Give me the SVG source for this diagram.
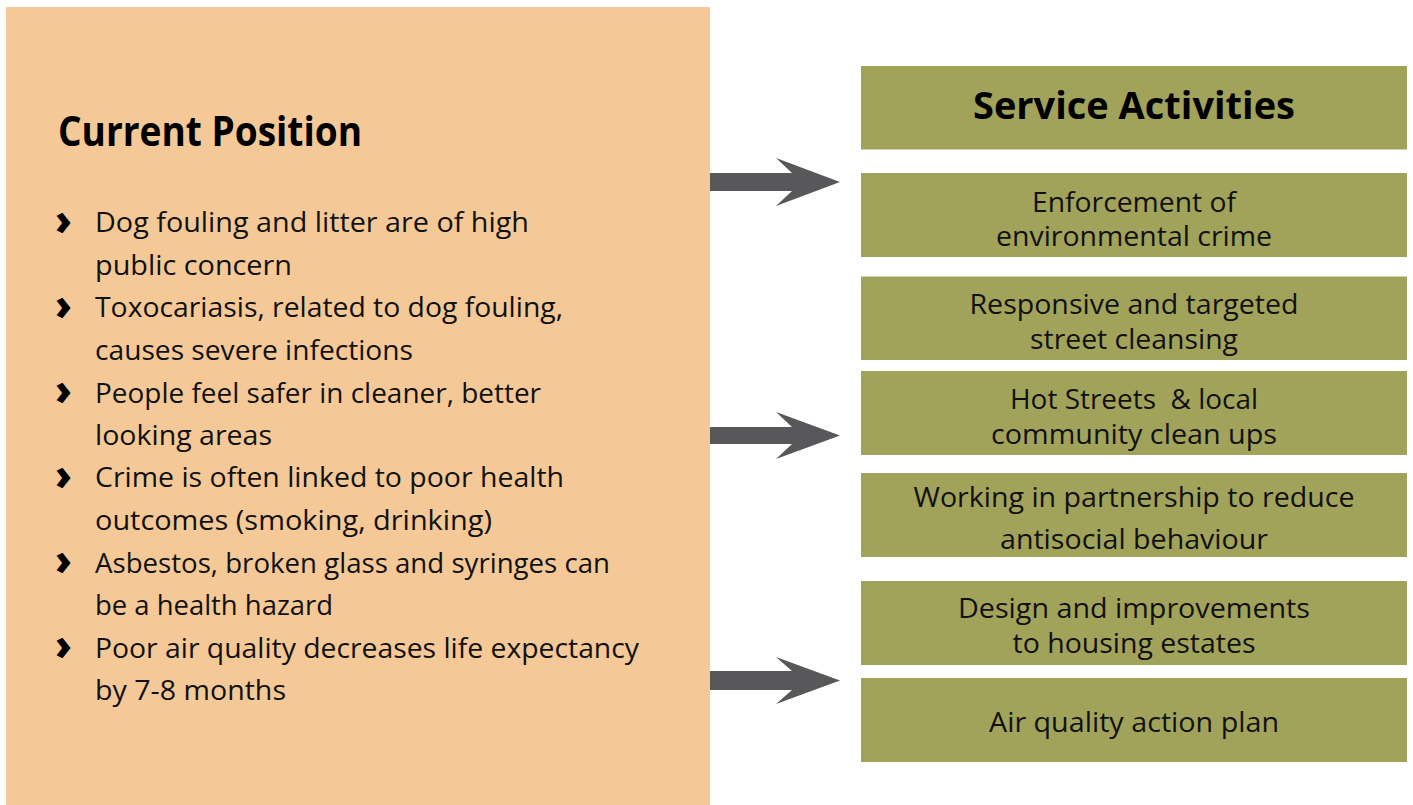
<svg xmlns="http://www.w3.org/2000/svg" width="1413" height="805" viewBox="0 0 1413 805">
<style>
  .panel { fill: #f4c997; }
  .box { fill: #a2a35b; }
  .arrow { fill: #58585a; }
  .t { font-family: "Open Sans", "Noto Sans", sans-serif; font-size: 28px; fill: #111; }
  .c { text-anchor: middle; }
  .h { font-family: "Open Sans", "Noto Sans", sans-serif; font-weight: bold; fill: #000; }
  .b { font-family: "Open Sans", "Noto Sans", sans-serif; font-weight: 800; font-size: 42px; fill: #000; }
</style>
<rect width="1413" height="805" fill="#ffffff"/>

<g id="current-position">
  <rect class="panel" x="6" y="7" width="704" height="798"/>
  <text class="h" x="58" y="146" font-size="41" textLength="304" lengthAdjust="spacingAndGlyphs">Current Position</text>
  <g class="b">
    <text x="55" y="235">›</text>
    <text x="55" y="320">›</text>
    <text x="55" y="405">›</text>
    <text x="55" y="490">›</text>
    <text x="55" y="575">›</text>
    <text x="55" y="660">›</text>
  </g>
  <g class="t">
    <text x="95" y="232" textLength="434" lengthAdjust="spacingAndGlyphs">Dog fouling and litter are of high</text>
    <text x="95" y="274.5" textLength="197" lengthAdjust="spacingAndGlyphs">public concern</text>
    <text x="95" y="317" textLength="468" lengthAdjust="spacingAndGlyphs">Toxocariasis, related to dog fouling,</text>
    <text x="95" y="359.5" textLength="318" lengthAdjust="spacingAndGlyphs">causes severe infections</text>
    <text x="95" y="403" textLength="446" lengthAdjust="spacingAndGlyphs">People feel safer in cleaner, better</text>
    <text x="95" y="445" textLength="177" lengthAdjust="spacingAndGlyphs">looking areas</text>
    <text x="95" y="487" textLength="469" lengthAdjust="spacingAndGlyphs">Crime is often linked to poor health</text>
    <text x="95" y="529.5" textLength="397" lengthAdjust="spacingAndGlyphs">outcomes (smoking, drinking)</text>
    <text x="95" y="572.5" textLength="515" lengthAdjust="spacingAndGlyphs">Asbestos, broken glass and syringes can</text>
    <text x="95" y="615" textLength="238" lengthAdjust="spacingAndGlyphs">be a health hazard</text>
    <text x="95" y="658" textLength="544" lengthAdjust="spacingAndGlyphs">Poor air quality decreases life expectancy</text>
    <text x="95" y="700" textLength="191" lengthAdjust="spacingAndGlyphs">by 7-8 months</text>
  </g>
</g>

<g id="service-activities">
  <rect class="box" x="861" y="66" width="546" height="83.5"/>
  <text class="h c" x="1134" y="119" font-size="38" textLength="322" lengthAdjust="spacingAndGlyphs">Service Activities</text>
</g>

<g id="enforcement">
  <rect class="box" x="861" y="173" width="546" height="84"/>
  <text class="t c" x="1134" y="212" font-size="27" textLength="204" lengthAdjust="spacingAndGlyphs">Enforcement of</text>
  <text class="t c" x="1134" y="245.5" font-size="27" textLength="276" lengthAdjust="spacingAndGlyphs">environmental crime</text>
</g>

<g id="street-cleansing">
  <rect class="box" x="861" y="276.5" width="546" height="83.5"/>
  <text class="t c" x="1134" y="314" textLength="329" lengthAdjust="spacingAndGlyphs">Responsive and targeted</text>
  <text class="t c" x="1134" y="349" textLength="208" lengthAdjust="spacingAndGlyphs">street cleansing</text>
</g>

<g id="hot-streets">
  <rect class="box" x="861" y="371" width="546" height="84"/>
  <text class="t c" x="1134" y="408.5" textLength="248" lengthAdjust="spacingAndGlyphs" style="white-space:pre">Hot Streets  &amp; local</text>
  <text class="t c" x="1134" y="443.5" textLength="286" lengthAdjust="spacingAndGlyphs">community clean ups</text>
</g>

<g id="partnership">
  <rect class="box" x="861" y="473" width="546" height="84"/>
  <text class="t c" x="1134" y="507" textLength="441" lengthAdjust="spacingAndGlyphs">Working in partnership to reduce</text>
  <text class="t c" x="1134" y="549" textLength="268" lengthAdjust="spacingAndGlyphs">antisocial behaviour</text>
</g>

<g id="housing-estates">
  <rect class="box" x="861" y="581" width="546" height="84"/>
  <text class="t c" x="1134" y="618" textLength="352" lengthAdjust="spacingAndGlyphs">Design and improvements</text>
  <text class="t c" x="1134" y="653" textLength="243" lengthAdjust="spacingAndGlyphs">to housing estates</text>
</g>

<g id="air-quality">
  <rect class="box" x="861" y="678" width="546" height="84"/>
  <text class="t c" x="1134" y="732" textLength="290" lengthAdjust="spacingAndGlyphs">Air quality action plan</text>
</g>

<g id="connectors">
  <polygon class="arrow" points="710,173 792,173 776,158 840,182 776,206 792,191 710,191"/>
  <polygon class="arrow" points="710,427 792,427 776,412 840,435.5 776,459 792,444 710,444"/>
  <polygon class="arrow" points="710,671 792,671 776,657 840,680.5 776,704 792,690 710,690"/>
</g>
</svg>
